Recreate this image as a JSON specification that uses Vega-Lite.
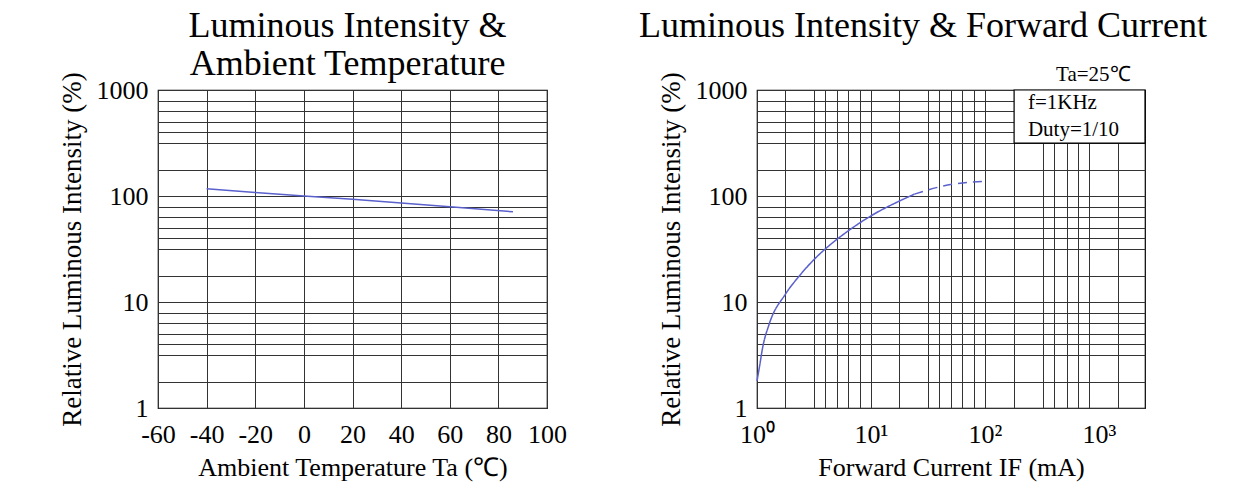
{
  "$schema": "https://vega.github.io/schema/vega-lite/v6.json",
  "background": "white",
  "padding": {"left": 57, "top": 7, "right": 5, "bottom": 5},
  "spacing": 70,
  "datasets": {
    "temp": [
      {"Ta": -40, "RI": 117},
      {"Ta": -20, "RI": 108},
      {"Ta": 0, "RI": 100},
      {"Ta": 20, "RI": 93},
      {"Ta": 40, "RI": 86},
      {"Ta": 60, "RI": 79},
      {"Ta": 86, "RI": 71}
    ],
    "current": [
      {"IF": 1, "RI": 1.8, "part": "rated"},
      {"IF": 1.048, "RI": 2.4, "part": "rated"},
      {"IF": 1.12, "RI": 3.7, "part": "rated"},
      {"IF": 1.28, "RI": 6.2, "part": "rated"},
      {"IF": 1.77, "RI": 11.8, "part": "rated"},
      {"IF": 2.35, "RI": 17.6, "part": "rated"},
      {"IF": 3.18, "RI": 25.3, "part": "rated"},
      {"IF": 4.03, "RI": 32.1, "part": "rated"},
      {"IF": 5.1, "RI": 39.5, "part": "rated"},
      {"IF": 6.37, "RI": 47.2, "part": "rated"},
      {"IF": 10, "RI": 65, "part": "rated"},
      {"IF": 17.9, "RI": 90, "part": "rated"},
      {"IF": 24, "RI": 104, "part": "rated"},
      {"IF": 24, "RI": 104, "part": "extrapolated"},
      {"IF": 42.6, "RI": 124, "part": "extrapolated"},
      {"IF": 100, "RI": 138, "part": "extrapolated"}
    ],
    "box": [
      {"x1": 180, "x2": 2533, "y1": 316, "y2": 1000}
    ],
    "notes": [
      {"IF": 238, "RI": 662, "text": "f=1KHz"},
      {"IF": 238, "RI": 368, "text": "Duty=1/10"},
      {"IF": 420, "RI": 1216, "text": "Ta=25℃"}
    ]
  },
  "config": {
    "view": {"stroke": "#000", "strokeWidth": 1.2},
    "font": "Liberation Serif",
    "axis": {
      "labelFont": "Liberation Serif",
      "titleFont": "Liberation Serif",
      "labelFontSize": 26,
      "titleFontSize": 26,
      "titleFontWeight": "normal",
      "labelColor": "#000",
      "titleColor": "#000",
      "ticks": false,
      "domain": false,
      "grid": true,
      "gridColor": "#333",
      "gridWidth": 1,
      "gridOpacity": 1,
      "labelOverlap": false,
      "labelBound": false,
      "labelFlush": false
    },
    "axisX": {"labelPadding": 13, "titlePadding": 7},
    "axisY": {"labelPadding": 10, "titlePadding": 10, "titleFontSize": 27},
    "title": {"font": "Liberation Serif", "fontSize": 36, "fontWeight": "normal", "color": "#000", "lineHeight": 38, "anchor": "middle"}
  },
  "hconcat": [
    {
      "width": 389,
      "height": 318,
      "title": {"text": ["Luminous Intensity &", "Ambient Temperature"], "offset": -11, "dx": -5},
      "data": {"name": "temp"},
      "mark": {"type": "line", "color": "#5a60cc", "strokeWidth": 1.5},
      "encoding": {
        "x": {
          "field": "Ta", "type": "quantitative",
          "scale": {"domain": [-60, 100], "nice": false, "zero": false},
          "axis": {
            "title": "Ambient Temperature Ta (℃)",
            "values": [-60, -40, -20, 0, 20, 40, 60, 80, 100],
            "labelExpr": "datum.value < 0 ? '-' + abs(datum.value) : '' + datum.value"
          }
        },
        "y": {
          "field": "RI", "type": "quantitative",
          "scale": {"type": "log", "domain": [1, 1000], "nice": false},
          "axis": {
            "title": "Relative Luminous Intensity (%)",
            "values": [1, 1.778, 3.162, 3.981, 5.012, 6.31, 7.943, 10, 17.78, 31.62, 39.81, 50.12, 63.1, 79.43, 100, 177.8, 316.2, 398.1, 501.2, 631, 794.3, 1000],
            "labelExpr": "datum.value==1?'1':datum.value==10?'10':datum.value==100?'100':datum.value==1000?'1000':''"
          }
        }
      }
    },
    {
      "width": 388,
      "height": 318,
      "title": {"text": "Luminous Intensity & Forward Current", "offset": 19, "dx": -28},
      "layer": [
        {
          "data": {"name": "box"},
          "mark": {"type": "rect", "fill": "white", "stroke": "#000", "strokeWidth": 1.2},
          "encoding": {
            "x": {"field": "x1", "type": "quantitative"},
            "x2": {"field": "x2"},
            "y": {"field": "y1", "type": "quantitative"},
            "y2": {"field": "y2"}
          }
        },
        {
          "data": {"name": "current"},
          "mark": {"type": "line", "color": "#5a60cc", "strokeWidth": 1.5, "interpolate": "monotone"},
          "encoding": {
            "x": {
              "field": "IF", "type": "quantitative",
              "scale": {"type": "log", "domain": [1, 2533], "nice": false},
              "axis": {
                "title": "Forward Current IF (mA)",
                "values": [1, 1.778, 3.162, 3.981, 5.012, 6.31, 7.943, 10, 17.78, 31.62, 39.81, 50.12, 63.1, 79.43, 100, 180, 323, 403, 524, 655, 817, 1000, 1469],
                "labelExpr": "datum.value==1?'10⁰':datum.value==10?'10¹':datum.value==100?'10²':datum.value==1000?'10³':''",
                "gridOpacity": {"condition": {"test": "datum.value==1000", "value": 0}, "value": 1}
              }
            },
            "y": {
              "field": "RI", "type": "quantitative",
              "scale": {"type": "log", "domain": [1, 1000], "nice": false},
              "axis": {
                "title": "Relative Luminous Intensity (%)",
                "values": [1, 1.778, 3.162, 3.981, 5.012, 6.31, 7.943, 10, 17.78, 31.62, 39.81, 50.12, 63.1, 79.43, 100, 177.8, 316.2, 398.1, 501.2, 631, 794.3, 1000],
                "labelExpr": "datum.value==1?'1':datum.value==10?'10':datum.value==100?'100':datum.value==1000?'1000':''"
              }
            },
            "strokeDash": {
              "field": "part", "type": "nominal",
              "scale": {"domain": ["rated", "extrapolated"], "range": [[1, 0], [9, 6]]},
              "legend": null
            }
          }
        },
        {
          "data": {"name": "notes"},
          "mark": {"type": "text", "align": "left", "baseline": "alphabetic", "fontSize": 21, "font": "Liberation Serif", "color": "#000"},
          "encoding": {
            "x": {"field": "IF", "type": "quantitative"},
            "y": {"field": "RI", "type": "quantitative"},
            "text": {"field": "text"}
          }
        }
      ]
    }
  ]
}
